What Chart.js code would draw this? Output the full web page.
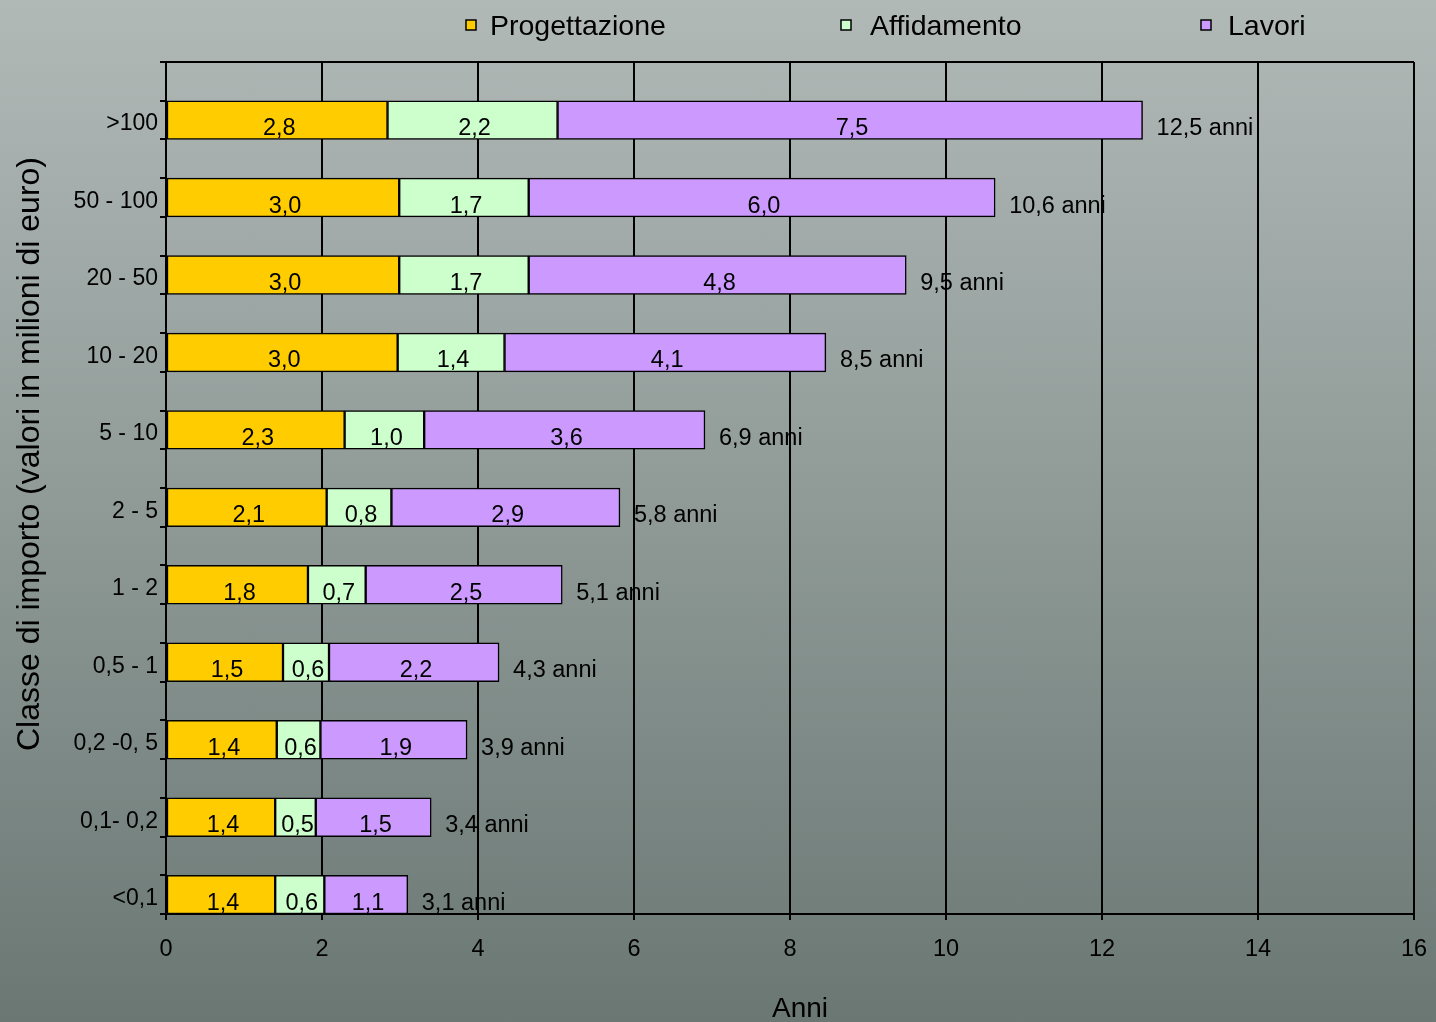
<!DOCTYPE html>
<html>
<head>
<meta charset="utf-8">
<script src="https://cdn.jsdelivr.net/npm/chart.js@4.4.1/dist/chart.umd.min.js"></script>
<style>
  html, body { margin: 0; padding: 0; }
  body { width: 1436px; height: 1022px; overflow: hidden;
         background: linear-gradient(to bottom, #b1b9b7 0%, #8f9a97 50%, #6a7773 100%); }
  #wrap { position: relative; width: 1436px; height: 1022px; }
</style>
</head>
<body>
<div id="wrap"><canvas id="c" width="1436" height="1022"></canvas></div>
<script>
// ---- data ----
const categories = [">100", "50 - 100", "20 - 50", "10 - 20", "5 - 10", "2 - 5", "1 - 2", "0,5 - 1", "0,2 -0, 5", "0,1- 0,2", "<0,1"];
const seriesNames = ["Progettazione", "Affidamento", "Lavori"];
const progettazione = [2.84, 2.99, 2.99, 2.97, 2.29, 2.06, 1.82, 1.50, 1.42, 1.40, 1.40];
const affidamento   = [2.18, 1.66, 1.66, 1.37, 1.02, 0.83, 0.74, 0.59, 0.56, 0.52, 0.63];
const lavori        = [7.50, 5.98, 4.84, 4.12, 3.60, 2.93, 2.52, 2.18, 1.88, 1.48, 1.07];
const xTicks = [0, 2, 4, 6, 8, 10, 12, 14, 16];
const totalSuffix = " anni";
const xTitle = "Anni";
const yTitle = "Classe di importo (valori in milioni di euro)";

// ---- styles ----
const colors = ["#FFCC00", "#CCFFCC", "#CC99FF"];
const FONT = "'Liberation Sans', Arial, sans-serif";

// Each category gets an empty half-band above its bar (as in the original)
const rowLabels = categories.flatMap(c => ["", c]);
const spread = arr => arr.flatMap(v => [null, v]);
const fmt = v => (Math.round(v * 10) / 10).toFixed(1).replace(".", ",");

const seriesData = [progettazione, affidamento, lavori];

const dataLabelPlugin = {
  id: "dataLabels",
  afterDatasetsDraw(chart) {
    const ctx = chart.ctx;
    ctx.save();
    ctx.fillStyle = "#000";
    ctx.font = "23.5px " + FONT;
    ctx.textBaseline = "alphabetic";
    ctx.textAlign = "center";
    chart.data.datasets.forEach((ds, di) => {
      const meta = chart.getDatasetMeta(di);
      meta.data.forEach((el, i) => {
        const v = ds.data[i];
        if (v === null || v === undefined) return;
        const cx = (el.x + el.base) / 2 + 2;
        ctx.fillText(fmt(v), cx, el.y + 15);
      });
    });
    // totals
    ctx.textAlign = "left";
    const xs = chart.scales.x;
    const ys = chart.scales.y;
    categories.forEach((c, k) => {
      const total = progettazione[k] + affidamento[k] + lavori[k];
      const px = xs.getPixelForValue(total) + 14;
      const py = ys.getPixelForValue(2 * k + 1);
      ctx.fillText(fmt(total) + totalSuffix, px, py + 15);
    });
    ctx.restore();
  }
};

const legendPlugin = {
  id: "customLegend",
  afterDraw(chart, args, opts) {
    const ctx = chart.ctx;
    ctx.save();
    ctx.font = "28.5px " + FONT;
    ctx.textBaseline = "middle";
    ctx.textAlign = "left";
    chart.data.datasets.forEach((ds, i) => {
      const x = opts.starts[i];
      const y = opts.y;
      ctx.fillStyle = ds.backgroundColor;
      ctx.fillRect(x, y - 5, 10, 10);
      ctx.lineWidth = 1.5;
      ctx.strokeStyle = "#000";
      ctx.strokeRect(x, y - 5, 10, 10);
      ctx.fillStyle = "#000";
      ctx.fillText(ds.label, x + opts.gaps[i], y + 2);
    });
    ctx.restore();
  }
};

const titlesPlugin = {
  id: "axisTitles",
  afterDraw(chart, args, opts) {
    const ctx = chart.ctx;
    ctx.save();
    ctx.fillStyle = "#000";
    ctx.textAlign = "center";
    ctx.textBaseline = "middle";
    // x title
    ctx.font = "28px " + FONT;
    ctx.fillText(opts.xText, opts.xPos[0], opts.xPos[1]);
    // y title
    ctx.translate(opts.yPos[0], opts.yPos[1]);
    ctx.rotate(-Math.PI / 2);
    ctx.font = "32px " + FONT;
    ctx.fillText(opts.yText, 0, 0);
    ctx.restore();
  }
};

const chart = new Chart(document.getElementById("c"), {
  type: "bar",
  data: {
    labels: rowLabels,
    datasets: seriesNames.map((name, i) => ({
      label: name,
      data: spread(seriesData[i]),
      backgroundColor: colors[i],
      borderColor: "#000",
      borderWidth: 1.5,
      borderSkipped: false,
      barPercentage: 1.0,
      categoryPercentage: 1.0
    }))
  },
  options: {
    indexAxis: "y",
    responsive: false,
    animation: false,
    layout: { padding: { top: 62, right: 22, left: 0, bottom: 0 } },
    plugins: {
      legend: { display: false },
      tooltip: { enabled: false },
      customLegend: { starts: [466, 841, 1201], gaps: [24, 29, 27], y: 25 },
      axisTitles: { xText: xTitle, xPos: [800, 1009], yText: yTitle, yPos: [30, 454] }
    },
    scales: {
      x: {
        type: "linear",
        stacked: true,
        min: 0,
        max: 16,
        afterBuildTicks: (scale) => { scale.ticks = xTicks.map(v => ({ value: v })); },
        afterFit: (scale) => { scale.height = 108; scale.paddingLeft = 0; scale.paddingRight = 0; },
        ticks: {
          color: "#000",
          font: { family: FONT, size: 23.5 },
          padding: 15,
          maxRotation: 0,
          callback: (v) => String(v)
        },
        grid: {
          color: "#000",
          lineWidth: 2,
          drawTicks: true,
          tickLength: 6,
          tickColor: "#000"
        },
        border: { display: true, color: "#000", width: 2 }
      },
      y: {
        type: "category",
        stacked: true,
        afterFit: (scale) => { scale.width = 166; scale.paddingTop = 0; scale.paddingBottom = 0; },
        ticks: {
          color: "#000",
          font: { family: FONT, size: 23 },
          autoSkip: false,
          padding: 2,
          labelOffset: 4
        },
        grid: {
          offset: true,
          drawOnChartArea: true,
          color: (ctx) => ctx.index === 0 ? "#000" : "rgba(0,0,0,0)",
          lineWidth: 2,
          drawTicks: true,
          tickLength: 6,
          tickColor: "#000"
        },
        border: { display: true, color: "#000", width: 2 }
      }
    }
  },
  plugins: [dataLabelPlugin, legendPlugin, titlesPlugin]
});
</script>
</body>
</html>
